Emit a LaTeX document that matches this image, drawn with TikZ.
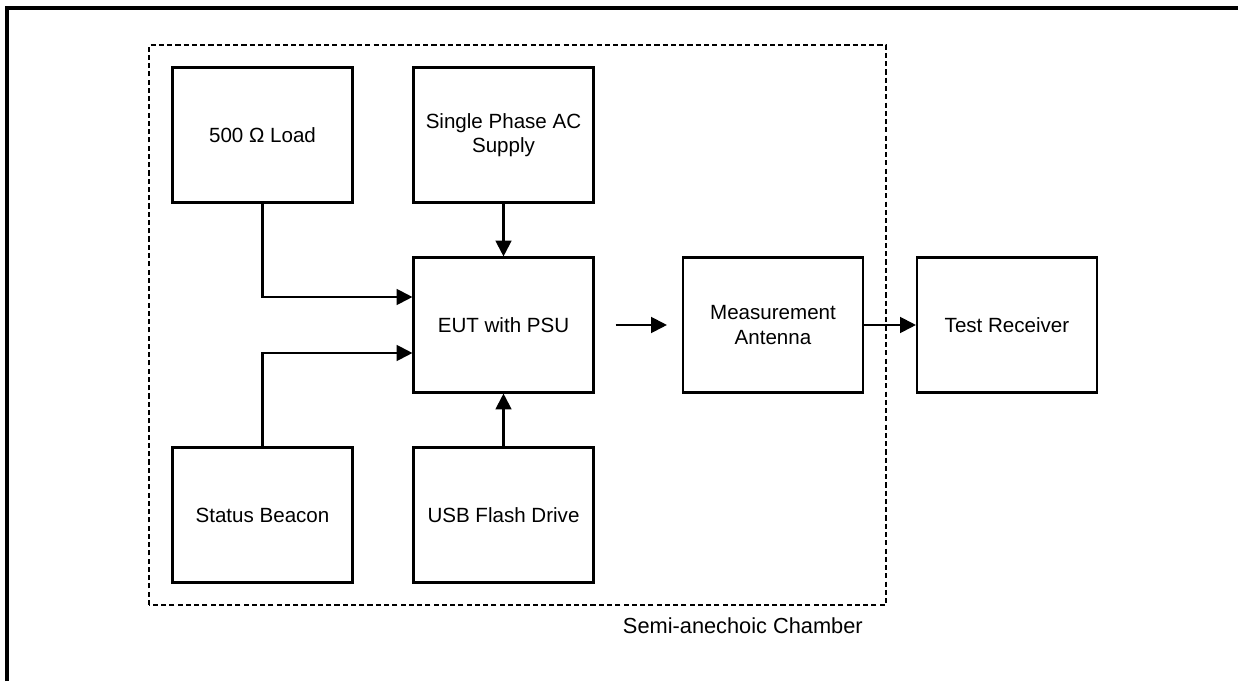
\documentclass[tikz,border=0pt]{standalone}
\usepackage{fontspec}
\setmainfont{Liberation Sans}
\usetikzlibrary{arrows.meta}

\begin{document}
\begin{tikzpicture}[
    >={Triangle[length=9pt,width=9pt]},
    font=\fontsize{11.7}{14}\selectfont,
    block/.style={
        draw,
        line width=1.2pt,
        align=center,
        minimum width=3.6cm,
        minimum height=2.7cm,
        inner sep=3pt
    },
    link/.style={
        line width=1.2pt,
        ->
    }
]

\useasboundingbox (0,0) rectangle (24.76,13.62);

% --------------------------------------------------
% Frame
% --------------------------------------------------

\draw[line width=2.4pt] (0.14,0) -- (0.14,13.46) -- (24.76,13.46);

% --------------------------------------------------
% Chamber
% --------------------------------------------------

\draw[line width=1.3pt, dash pattern=on 2.9pt off 1.8pt]
    (2.98,1.52) rectangle (17.72,12.72);

\node[anchor=east, font=\fontsize{12.4}{14}\selectfont] (chamber) at (17.38,1.1)
    {Semi-anechoic Chamber};

% --------------------------------------------------
% Blocks
% --------------------------------------------------

\node[block] (load) at (5.25,10.92)
    {500 \symbol{"03A9} Load};

\node[block] (supply) at (10.07,10.92)
    {Single Phase AC\\Supply};

\node[block] (eut) at (10.07,7.12)
    {EUT with PSU};

\node[block] (beacon) at (5.25,3.32)
    {Status Beacon};

\node[block] (usb) at (10.07,3.32)
    {USB Flash Drive};

\node[block] (antenna) at (15.46,7.12)
    {Measurement\\Antenna};

\node[block] (receiver) at (20.14,7.12)
    {Test Receiver};

% --------------------------------------------------
% Links
% --------------------------------------------------

\draw[link] (load.south) |- ([yshift=0.56cm]eut.west);
\draw[link] (beacon.north) |- ([yshift=-0.56cm]eut.west);
\draw[link] (supply) -- (eut);
\draw[link] (usb) -- (eut);

\draw[link, shorten <=0.42cm, shorten >=0.30cm] (eut) -- (antenna);
\draw[link] (antenna) -- (receiver);

\end{tikzpicture}
\end{document}
